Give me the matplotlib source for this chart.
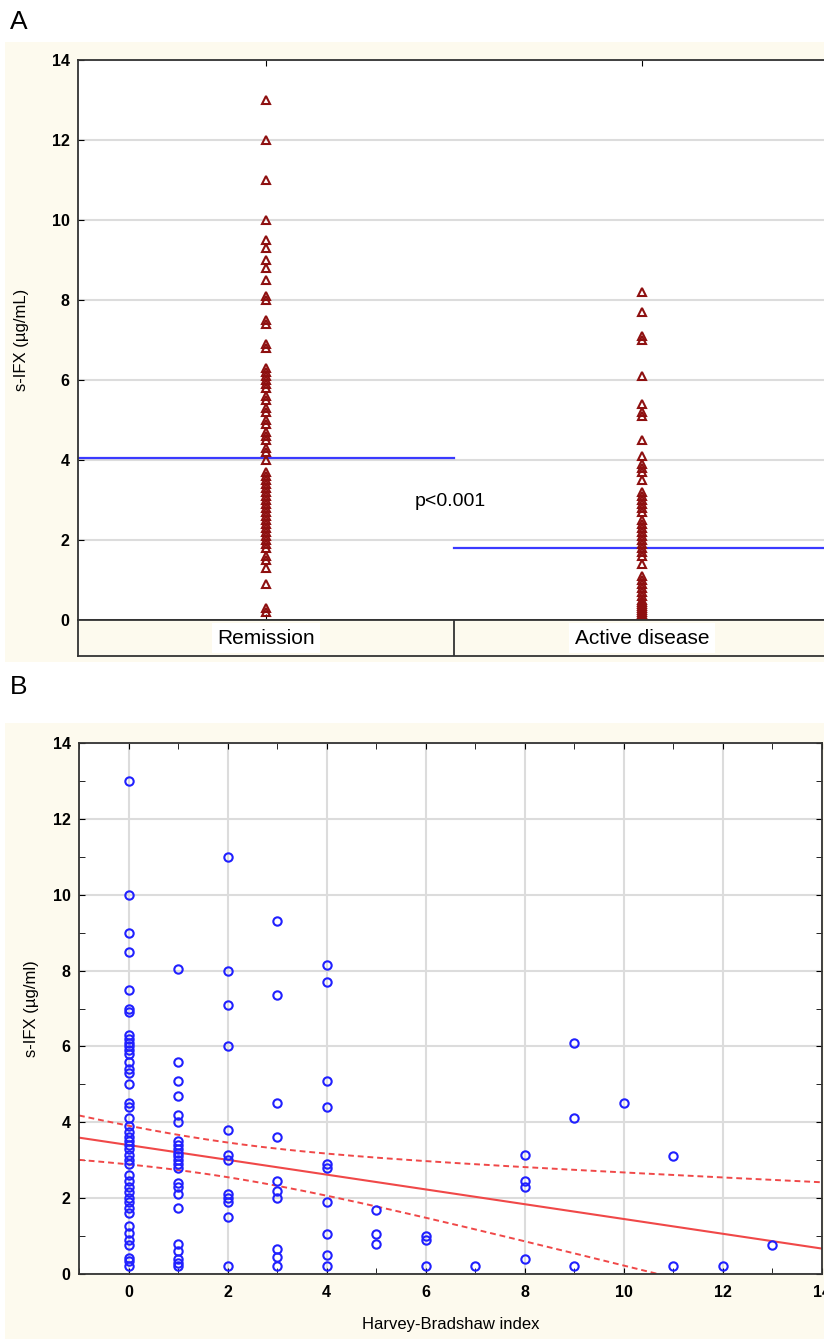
import numpy as np
import matplotlib
matplotlib.use("Agg")
import matplotlib.pyplot as plt
from matplotlib.patches import Rectangle

plt.rcParams['font.family'] = ['Liberation Sans', 'DejaVu Sans']

# ---- panel A data ----
categories = ["Remission", "Active disease"]
remission = [13.0, 12.0, 11.0, 10.0, 9.5, 9.3, 9.0, 8.8, 8.5, 8.1, 8.0, 7.5, 7.4, 6.9, 6.8,
             6.3, 6.2, 6.1, 6.0, 5.9, 5.8, 5.6, 5.5, 5.3, 5.2, 5.0, 4.9, 4.7, 4.6, 4.5, 4.3,
             4.2, 4.0, 3.7, 3.6, 3.5, 3.4, 3.3, 3.2, 3.1, 3.0, 2.9, 2.8, 2.7, 2.6, 2.5, 2.4,
             2.3, 2.2, 2.1, 2.0, 1.9, 1.8, 1.6, 1.5, 1.3, 0.9, 0.3, 0.2]
active = [8.2, 7.7, 7.1, 7.0, 6.1, 5.4, 5.2, 5.1, 4.5, 4.1, 3.9, 3.8, 3.7, 3.5, 3.2, 3.1,
          3.0, 2.9, 2.8, 2.7, 2.5, 2.4, 2.3, 2.2, 2.1, 2.0, 1.9, 1.8, 1.7, 1.6, 1.4, 1.1,
          1.0, 0.9, 0.8, 0.7, 0.6, 0.5, 0.45, 0.4, 0.35, 0.3, 0.25, 0.2, 0.15, 0.1]
group_levels = [4.05, 1.8]
p_text = "p<0.001"

# ---- panel B data: s-IFX by Harvey-Bradshaw index ----
hbi = {
    0: [13.0, 10.0, 9.0, 8.5, 7.5, 7.0, 6.9, 6.3, 6.2, 6.1, 6.0, 5.9, 5.8, 5.6, 5.4, 5.3, 5.0,
        4.5, 4.4, 4.1, 3.9, 3.75, 3.6, 3.5, 3.4, 3.3, 3.15, 3.0, 2.9, 2.6, 2.45, 2.3, 2.15,
        2.0, 1.9, 1.75, 1.6, 1.27, 1.08, 0.9, 0.77, 0.42, 0.33, 0.2],
    1: [8.05, 5.6, 5.1, 4.7, 4.2, 4.0, 3.5, 3.4, 3.3, 3.2, 3.1, 3.0, 2.9, 2.8, 2.4, 2.3, 2.1,
        1.75, 0.8, 0.6, 0.4, 0.3, 0.2],
    2: [11.0, 8.0, 7.1, 6.0, 3.8, 3.15, 3.0, 2.1, 2.0, 1.9, 1.5, 0.2],
    3: [9.3, 7.35, 4.5, 3.6, 2.45, 2.2, 2.0, 0.65, 0.45, 0.2],
    4: [8.15, 7.7, 5.1, 4.4, 2.9, 2.8, 1.9, 1.05, 0.5, 0.2],
    5: [1.7, 1.05, 0.8],
    6: [1.0, 0.9, 0.2],
    7: [0.2],
    8: [3.15, 2.45, 2.3, 0.4],
    9: [6.1, 4.1, 0.2],
    10: [4.5],
    11: [3.1, 0.2],
    12: [0.2],
    13: [0.77],
}

# regression line and 95% band
fit_intercept = 3.4
fit_slope = -0.195
ci_min_half = 0.455   # narrowest half-width of the band
ci_center = 1.68      # x where the band is narrowest
ci_spread = 0.137     # growth of the half-width away from the center

cream = "#fdfaee"
W, H = 824, 1339
fig = plt.figure(figsize=(W / 100, H / 100), dpi=100)

def fx(px):
    return px / W

def fy(py):
    return 1 - py / H

# cream panels (behind the axes)
fig.patches.append(Rectangle((fx(5), fy(662)), fx(830), 620 / H, transform=fig.transFigure,
                             facecolor=cream, edgecolor="none", zorder=-10))
fig.patches.append(Rectangle((fx(5), fy(1339)), fx(830), 616 / H, transform=fig.transFigure,
                             facecolor=cream, edgecolor="none", zorder=-10))

fig.text(fx(10), fy(22), "A", fontsize=19, va="center", ha="left")
fig.text(fx(10), fy(687), "B", fontsize=19, va="center", ha="left")

# ---------------- panel A ----------------
axA = fig.add_axes([fx(78), fy(620), fx(830 - 78), 560 / H])
axA.set_xlim(0, 2)
axA.set_ylim(0, 14)
axA.set_yticks(range(0, 15, 2))
axA.set_xticks([0.5, 1.5])
axA.set_xticklabels([])
axA.yaxis.grid(True, color="#dcdcdc", lw=1.5)
axA.set_axisbelow(True)
axA.tick_params(axis="y", direction="in", length=4, labelsize=11.5, pad=6)
axA.tick_params(axis="x", direction="in", length=4, top=True)
for lab in axA.get_yticklabels():
    lab.set_fontweight("bold")
for s in axA.spines.values():
    s.set_linewidth(1.3)
    s.set_color("#333333")

axA.plot([0, 1], [group_levels[0]] * 2, color="#3a3aff", lw=1.6, zorder=2)
axA.plot([1, 2], [group_levels[1]] * 2, color="#3a3aff", lw=1.6, zorder=2)
axA.plot([0.5] * len(remission), remission, "^", ms=5.5, mfc="none", mec="#8e1010",
         mew=1.5, zorder=3, clip_on=False)
axA.plot([1.5] * len(active), active, "^", ms=5.5, mfc="none", mec="#8e1010",
         mew=1.5, zorder=3, clip_on=False)
axA.text(0.99, 2.95, p_text, fontsize=14, ha="center", va="center")
axA.set_ylabel("s-IFX (µg/mL)", fontsize=12, labelpad=16)

# category band
axC = fig.add_axes([fx(78), fy(656), fx(830 - 78), 36 / H])
axC.set_xlim(0, 2)
axC.set_ylim(0, 1)
axC.set_facecolor(cream)
axC.set_xticks([])
axC.set_yticks([])
axC.axvline(1, color="#333333", lw=1.3)
for s in axC.spines.values():
    s.set_linewidth(1.3)
    s.set_color("#333333")
for i, c in enumerate(categories):
    axC.text(0.5 + i, 0.5, c, fontsize=15, ha="center", va="center",
             bbox=dict(facecolor="white", edgecolor="none", pad=4))

# ---------------- panel B ----------------
xs = np.concatenate([[k] * len(v) for k, v in hbi.items()]).astype(float)
ys = np.concatenate([v for v in hbi.values()])

axB = fig.add_axes([fx(79), fy(1274), fx(822 - 79), (1274 - 743) / H])
axB.set_xlim(-1, 14)
axB.set_ylim(0, 14)
axB.set_xticks(range(0, 15, 2))
axB.set_yticks(range(0, 15, 2))
axB.set_xticks(range(-1, 15), minor=True)
axB.set_yticks(range(0, 15), minor=True)
axB.grid(True, which="major", color="#dcdcdc", lw=1.5)
axB.set_axisbelow(True)
axB.tick_params(which="both", direction="in", length=4, top=True, right=True,
                labelsize=11.5)
axB.tick_params(axis="x", pad=8)
axB.tick_params(axis="y", pad=6)
for lab in axB.get_xticklabels() + axB.get_yticklabels():
    lab.set_fontweight("bold")
for s in axB.spines.values():
    s.set_linewidth(1.3)
    s.set_color("#333333")

xl = np.linspace(-1, 14, 200)
yl = fit_intercept + fit_slope * xl
band = np.sqrt(ci_min_half ** 2 + (ci_spread * (xl - ci_center)) ** 2)
axB.plot(xl, yl, color="#f04848", lw=1.5, zorder=2)
axB.plot(xl, yl + band, color="#f04848", lw=1.4, ls=(0, (3, 2)), zorder=2)
axB.plot(xl, yl - band, color="#f04848", lw=1.4, ls=(0, (3, 2)), zorder=2)

axB.plot(xs, ys, "o", ms=6, mfc="none", mec="#2020ff", mew=1.5, zorder=3)
axB.set_ylabel("s-IFX (µg/ml)", fontsize=12, labelpad=10)
axB.set_xlabel("Harvey-Bradshaw index", fontsize=12, labelpad=12)

fig.savefig("out.png", dpi=100, facecolor="white")
